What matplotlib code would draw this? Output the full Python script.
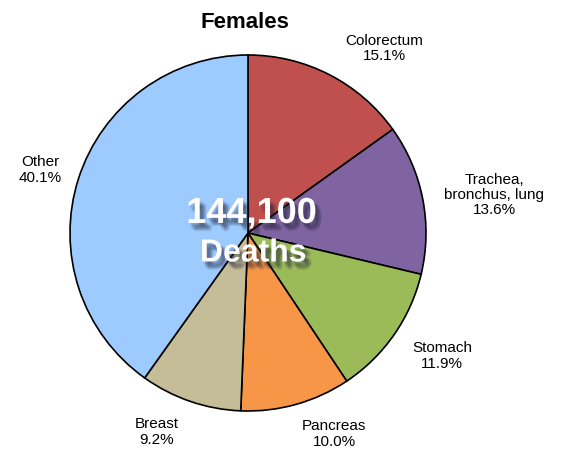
import matplotlib.pyplot as plt
import matplotlib.patheffects as pe

plt.rcParams['font.family'] = ['Liberation Sans', 'DejaVu Sans']

labels = ['Colorectum', 'Trachea,\nbronchus, lung', 'Stomach', 'Pancreas', 'Breast', 'Other']
shares = [15.1, 13.6, 11.9, 10.0, 9.2, 40.1]
colors = ['#C0504D', '#8064A2', '#9BBB59', '#F79646', '#C4BD97', '#9DCBFF']
# label positions in axes data units (pie radius = 1)
label_pos = [(0.764, 1.034), (1.382, 0.213), (1.09, -0.691), (0.483, -1.129), (-0.511, -1.118), (-1.169, 0.354)]

fig = plt.figure(figsize=(5.65, 4.51), dpi=100)
cx, cy, r = 248, 233, 178
ax = fig.add_axes([(cx - r) / 565, (451 - cy - r) / 451, 2 * r / 565, 2 * r / 451])
ax.pie(shares, colors=colors, startangle=90, counterclock=False,
       wedgeprops=dict(edgecolor='black', linewidth=1.2))
ax.set_xlim(-1, 1)
ax.set_ylim(-1, 1)
ax.set_aspect('equal')
ax.axis('off')

for lab, val, (x, y) in zip(labels, shares, label_pos):
    ax.text(x, y, f'{lab}\n{val:.1f}%', ha='center', va='center', fontsize=11,
            linespacing=1.1, clip_on=False)

fig.text(245 / 565, 1 - 22 / 451, 'Females', ha='center', va='center',
         fontsize=16, fontweight='bold')

# soft drop shadow built from a few faint offset copies
shadow = []
for dx, dy in [(1, -2), (2, -3), (3, -4), (4, -5), (3, -3), (2, -5), (5, -4), (4, -6)]:
    shadow.append(pe.SimplePatchShadow(offset=(dx, dy), shadow_rgbFace='#22223a', alpha=0.11))
shadow.append(pe.Normal())
ax.text(0.02, 0.11, '144,100', ha='center', va='center', fontsize=26,
        fontweight='bold', color='white', path_effects=shadow)
ax.text(0.03, -0.115, 'Deaths', ha='center', va='center', fontsize=23,
        fontweight='bold', color='white', path_effects=shadow)

fig.savefig('out.png', dpi=100)
